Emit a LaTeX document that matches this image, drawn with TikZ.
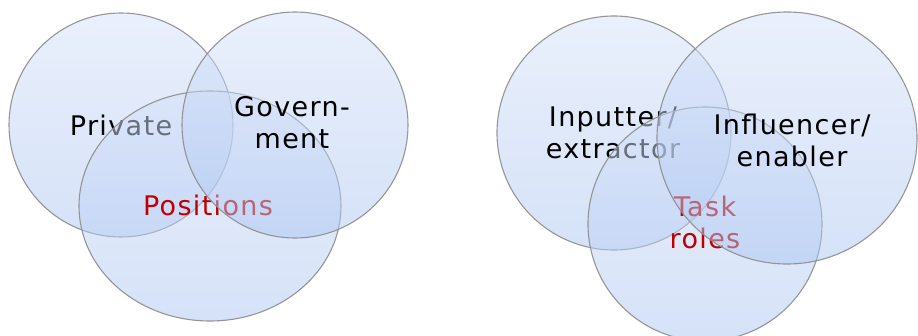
\documentclass[tikz,border=0pt]{standalone}
\usepackage{fontspec}
\setmainfont{DejaVu Sans}
\newfontfamily\vennfont[LetterSpace=5]{DejaVu Sans}
\usetikzlibrary{positioning}

\definecolor{setred}{RGB}{192,0,0}
\definecolor{rimgray}{RGB}{140,140,140}
\definecolor{settop}{RGB}{213,225,249}
\definecolor{setbottom}{RGB}{171,197,241}

\tikzset{
  setdisc/.style={draw=rimgray, line width=1.1pt, top color=settop,
    bottom color=setbottom, fill opacity=0.5, draw opacity=0.9},
  setlabel/.style={font=\vennfont\fontsize{27}{32}\selectfont,
    align=center, inner sep=0pt},
}

\begin{document}
\begin{tikzpicture}[x=1pt, y=-1pt]
    \useasboundingbox (0,0) rectangle (918,335);

    % Linkes Diagramm: Positionen
    \path[setdisc] (121,125) circle (112);
    \node[setlabel] (private) at (121,125) {Private};
    \path[setdisc] (210,206) ellipse (131 and 115);
    \node[setlabel, text=setred] (positions) at (208,205) {Positions};
    \path[setdisc] (295,125) circle (113);
    \node[setlabel] (government) at (292,123) {Govern-\\ment};

    % Rechtes Diagramm: Aufgabenrollen
    \path[setdisc] (614,133) circle (117);
    \node[setlabel] (inputter) at (613,133) {Inputter/\\extractor};
    \path[setdisc] (705,224) circle (117);
    \node[setlabel, text=setred] (taskroles) at (705,222) {Task\\roles};
    \path[setdisc] (787,138) ellipse (130 and 126);
    \node[setlabel] (influencer) at (792,140) {Influencer/\\enabler};
\end{tikzpicture}
\end{document}
